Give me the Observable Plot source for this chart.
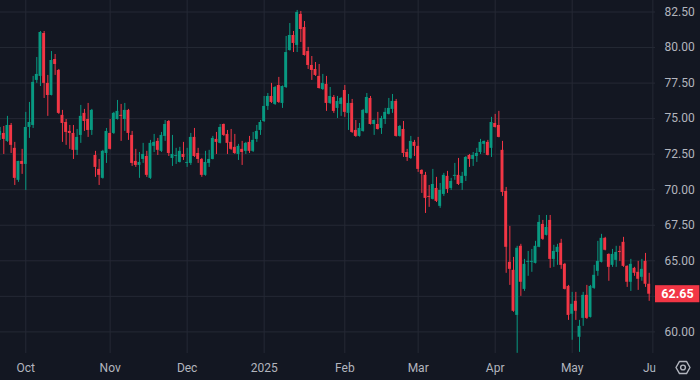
<!DOCTYPE html>
<html><head><meta charset="utf-8">
<script src="https://cdn.jsdelivr.net/npm/d3@7"></script>
<script src="https://cdn.jsdelivr.net/npm/@observablehq/plot@0.6"></script>
<style>
html,body{margin:0;padding:0;background:#131722;}
#chart{width:700px;height:380px;overflow:hidden;}
</style></head><body><div id="chart"></div>
<script>
const open = [73.82,73.96,73.40,74.52,72.91,70.66,71.99,71.78,74.38,74.52,77.69,77.97,80.99,77.48,76.63,79.16,78.39,75.23,74.73,74.10,
73.96,72.77,73.82,75.37,74.94,74.17,72.41,71.43,70.80,72.55,73.96,73.96,74.94,75.23,74.94,75.58,73.82,71.99,71.71,72.13,
72.34,70.80,73.05,73.40,72.70,73.75,74.80,72.20,72.34,71.92,72.48,71.85,71.85,73.68,72.55,72.13,71.01,71.85,72.13,73.54,
73.26,74.59,73.89,73.33,72.98,72.48,72.84,72.70,73.33,72.70,73.54,74.17,74.80,75.86,76.56,76.00,77.33,76.07,77.19,79.79,
80.85,80.15,82.33,81.41,79.72,78.74,78.46,77.97,77.05,77.41,76.07,76.49,75.72,76.00,76.98,75.37,76.07,74.17,73.75,74.10,
75.37,76.42,74.59,74.59,74.31,74.94,75.30,75.65,76.21,73.75,74.24,72.62,72.20,73.33,73.05,71.36,71.01,69.53,69.32,70.09,
68.83,69.67,70.94,70.09,70.94,71.01,70.44,70.94,72.41,72.13,72.34,72.62,73.19,73.33,72.91,74.66,74.52,72.77,69.88,64.89,
64.33,61.16,66.02,62.99,64.89,64.89,64.82,65.95,67.56,66.79,67.84,65.10,65.59,66.23,64.75,63.20,61.24,62.15,59.62,60.95,
62.57,61.02,63.06,64.26,64.89,66.58,65.45,64.68,65.03,65.66,66.30,64.61,63.49,64.47,64.19,63.84,64.96,63.35];
const high = [74.38,74.45,75.16,74.66,73.33,72.00,72.84,75.44,76.14,77.97,79.30,81.13,81.13,78.04,79.72,79.51,78.46,75.58,74.94,74.52,
74.52,74.24,75.93,75.65,76.07,75.65,72.70,72.13,72.77,74.31,74.94,75.44,76.28,76.00,76.07,75.65,74.10,72.84,72.62,73.26,
72.70,73.47,73.89,73.61,74.03,74.87,74.87,73.82,72.91,72.98,73.33,72.91,73.96,74.31,72.91,72.20,72.70,72.77,73.75,74.03,
74.59,74.62,74.17,74.24,73.89,73.19,73.40,73.33,73.75,74.03,74.52,74.87,76.56,76.77,77.48,77.26,77.90,77.30,80.78,81.69,
81.13,82.61,82.54,81.83,80.01,79.37,78.95,78.81,78.11,77.97,77.19,76.63,76.56,76.49,77.33,76.70,76.35,74.87,74.66,75.65,
76.77,76.56,74.90,75.44,75.16,75.72,76.42,76.70,76.35,74.52,74.80,72.84,73.75,73.47,73.68,71.40,71.22,70.30,71.43,70.87,
70.44,71.15,71.29,70.80,71.85,72.20,71.22,72.34,72.48,72.62,72.91,73.54,73.42,73.47,75.09,75.30,75.51,73.40,70.16,67.42,
65.24,66.02,66.16,65.10,65.66,65.80,66.37,68.19,67.84,68.19,68.19,66.09,66.16,66.51,64.82,63.27,62.78,62.78,60.81,62.78,
63.27,63.27,64.68,66.37,66.86,66.65,65.49,65.80,66.02,66.02,66.65,64.65,65.10,64.54,64.96,65.10,65.52,64.12];
const low = [73.47,72.48,73.33,72.55,70.30,70.52,71.08,69.95,73.61,74.31,77.48,77.26,76.42,75.16,76.60,78.04,75.30,73.33,73.12,72.84,
72.13,72.41,73.26,74.10,73.68,73.82,70.87,70.30,70.75,71.85,72.80,73.89,74.90,73.40,74.10,73.47,71.64,71.57,70.80,71.85,
70.87,70.73,72.62,72.41,72.62,73.40,72.34,71.64,71.78,71.88,72.06,71.57,71.71,72.27,71.85,70.87,70.95,71.57,72.10,72.48,
73.22,73.75,72.48,72.77,72.48,72.06,71.71,72.48,72.55,72.62,73.33,73.82,74.73,75.58,76.07,75.93,76.07,75.72,77.12,79.75,
79.65,79.65,80.36,79.40,78.46,77.69,77.97,77.08,76.98,75.51,76.00,75.37,75.01,75.16,75.09,74.17,73.96,73.68,73.70,74.05,
75.33,74.55,73.82,74.20,73.89,74.59,75.26,75.37,73.70,73.70,72.27,71.99,72.13,72.34,71.22,69.74,68.33,68.76,69.28,69.10,
68.69,69.53,69.74,69.95,70.66,70.30,69.95,70.58,71.57,71.64,71.92,72.48,72.55,72.38,72.27,74.34,73.65,69.53,64.12,63.27,
61.38,58.49,62.50,62.85,63.91,64.19,64.78,65.92,66.44,66.75,64.47,64.54,64.68,64.40,62.95,60.81,59.41,60.81,58.56,60.39,
60.88,60.98,62.99,63.91,64.85,65.70,63.56,64.54,64.54,64.96,64.54,63.13,62.85,63.91,62.92,63.56,63.13,62.15];
const close = [74.10,73.54,74.52,73.12,70.80,71.99,71.78,74.38,74.73,77.55,78.11,81.06,77.48,76.63,79.09,78.81,75.37,74.66,74.03,73.96,
72.77,73.68,75.16,74.80,74.17,75.58,71.57,71.01,72.70,74.10,72.84,75.37,75.51,75.16,75.58,73.96,71.85,71.71,71.92,72.48,
71.01,73.26,73.33,72.77,73.82,74.59,72.55,72.48,72.41,72.70,72.27,71.92,73.68,72.34,72.13,71.01,71.92,72.13,73.61,73.33,
74.38,73.82,73.26,72.84,72.55,73.05,72.62,73.26,72.70,73.47,74.10,74.73,75.86,76.56,76.14,77.19,76.14,77.26,79.65,80.85,
80.29,82.47,81.27,79.44,78.74,78.39,78.04,77.12,77.48,76.07,76.56,75.51,76.21,76.42,75.44,76.07,74.03,73.75,74.31,75.58,
76.49,74.59,74.87,74.24,75.01,75.44,75.72,76.21,73.75,74.45,72.55,72.27,73.40,73.05,71.43,71.08,69.39,69.46,70.37,69.18,
69.95,71.01,70.02,70.58,71.01,70.37,70.94,72.27,72.13,72.41,72.55,73.33,73.40,72.41,74.73,74.38,73.68,69.81,65.95,64.40,
61.45,65.88,63.49,64.75,64.96,64.96,66.02,67.70,66.51,67.35,65.10,65.66,65.95,64.68,62.99,61.16,61.94,61.45,60.39,62.57,
60.95,63.20,63.98,64.96,66.58,65.74,64.54,65.45,65.59,65.59,64.61,63.49,64.75,64.12,63.70,64.40,63.35,62.65];
const monthLabels = ["Oct","Nov","Dec","2025","Feb","Mar","Apr","May","Jun"];
const monthStartBar = [8,31,52,73,95,115,136,157,179];
const priceTicks = [60,62.5,65,67.5,70,72.5,75,77.5,80,82.5];

const bars = open.map((o,k)=>({bar:k+1, open:o, high:high[k], low:low[k], close:close[k], up: close[k]>=o}));
const last = bars[bars.length-1];
// price-scale labels hidden behind the last-price tag (as in the reference)
const labelTicks = priceTicks.filter(t => Math.abs(t - last.close) > 0.6);
const UP="#089981", DOWN="#f23645", GRID="#252935", TXT="#b2b5be";
const W=700, H=380, plotW=655, plotH=353;
const xDomain=[1.102,179.72];
const yDomain=[58.48,83.31];

const chart = Plot.plot({
  width:W, height:H, marginTop:0, marginLeft:0, marginRight:W-plotW, marginBottom:H-plotH,
  style:{background:"#131722", color:TXT, fontFamily:"Roboto, 'Noto Sans', sans-serif", fontSize:"12px"},
  x:{type:"linear", domain:xDomain, label:null},
  y:{domain:yDomain, label:null},
  color:{type:"identity"},
  marks:[
    Plot.gridX(monthStartBar,{stroke:GRID, strokeOpacity:1}),
    Plot.gridY(priceTicks,{stroke:GRID, strokeOpacity:1}),
    Plot.ruleX(bars,{x:"bar", y1:"low", y2:"high", stroke:d=>d.up?UP:DOWN, strokeWidth:1, clip:true}),
    Plot.rect(bars,{x1:d=>d.bar-0.4, x2:d=>d.bar+0.4, y1:"open", y2:"close", fill:d=>d.up?UP:DOWN, clip:true}),
    Plot.axisX(monthStartBar,{tickSize:0, tickPadding:10, label:null, tickFormat:d=>monthLabels[monthStartBar.indexOf(d)], fill:TXT, fontSize:12}),
    Plot.axisY(labelTicks,{anchor:"right", tickSize:0, tickPadding:9, label:null, tickFormat:d3.format(".2f"), fill:TXT, fontSize:12}),
    Plot.rect([last],{x1:xDomain[1], x2:xDomain[1]+12.1, y1:d=>d.close-0.6, y2:d=>d.close+0.6, fill:DOWN}),
    Plot.text([last],{x:xDomain[1], y:"close", text:d=>d.close.toFixed(2), dx:22, fill:"white", fontWeight:"bold", fontSize:12.5})
  ]
});
document.getElementById("chart").appendChild(chart);

const svg = d3.select(chart);
const defs = svg.append("defs");
defs.append("clipPath").attr("id","xclip").append("rect").attr("x",0).attr("y",0).attr("width",plotW).attr("height",H);
svg.selectAll('g[aria-label="x-axis tick label"]').attr("clip-path","url(#xclip)");

// settings icon (decoration)
const cx=683, cy=367.5, r=7;
const hex = d3.range(6).map(k=>[cx+r*Math.cos(k*Math.PI/3), cy+r*Math.sin(k*Math.PI/3)]);
svg.append("path").attr("d","M"+hex.map(p=>p.join(",")).join("L")+"Z")
  .attr("fill","none").attr("stroke",TXT).attr("stroke-width",1.4).attr("stroke-linejoin","round");
svg.append("circle").attr("cx",cx).attr("cy",cy).attr("r",2.4).attr("fill","none").attr("stroke",TXT).attr("stroke-width",1.4);
</script></body></html>
